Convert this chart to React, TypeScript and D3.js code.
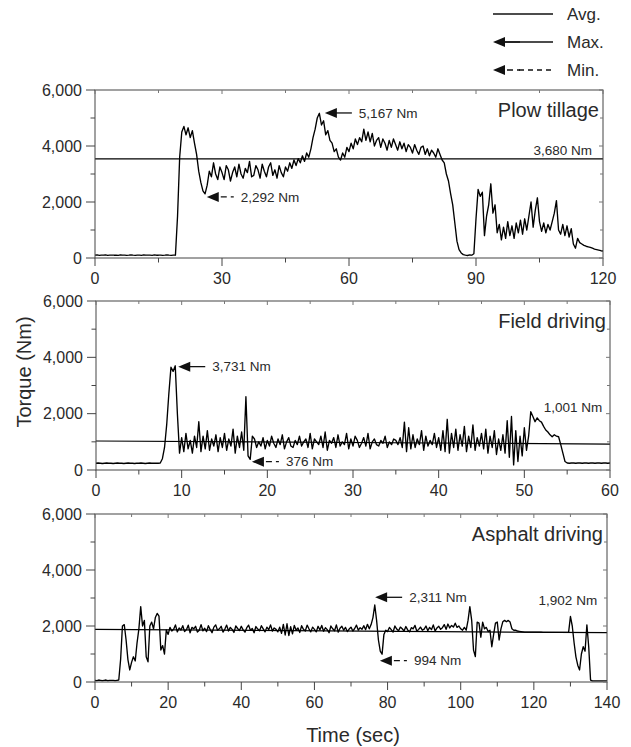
import React from 'react';
import * as d3 from 'd3';

// torque (Nm), plow tillage, one sample every 0.5 s, 0-120 s (10 per row = 5 s)
const plowTorque = [
  100, 110, 95, 105, 100, 110, 95, 100, 105, 100,
  100, 95, 110, 100, 105, 95, 100, 110, 100, 95,
  105, 100, 95, 110, 100, 105, 100, 95, 110, 100,
  100, 105, 95, 100, 110, 100, 95, 105, 100, 1500,
  3600, 4500, 4700, 4400, 4650, 4300, 4550, 4100, 3700, 3100,
  2700, 2400, 2292, 2600, 3100, 2900, 3400, 3000, 2800, 3250,
  3050, 2800, 3300, 3150, 2750, 3050, 3250, 2900, 3350, 3000,
  2850, 3200, 3050, 3450, 2900, 2950, 3300, 3150, 2850, 3350,
  3100, 2900, 3250, 3400, 2950, 3150, 2850, 3300, 3050, 2900,
  3250, 3100, 3400, 3200, 3500, 3300, 3550, 3400, 3650, 3450,
  3750, 3600, 3900, 4300, 4600, 5000, 5167, 4750, 4900, 4400,
  4550, 4200, 4100, 3800, 3900, 3600, 3500, 3750, 3600, 3950,
  3800, 4100, 3900, 4250, 4050, 4300, 4150, 4600, 4200, 4500,
  4150, 4450, 4000, 4200, 4300, 3950, 4250, 4100, 3850, 4200,
  3950, 4250, 4050, 3850, 4150, 3900, 4100, 3800, 4050, 3950,
  3750, 4050, 3850, 3700, 3950, 4000, 3700, 3900, 3650, 3850,
  3750, 3600, 3900, 3700, 3500, 3400, 3000, 2750, 2300, 1900,
  1250, 600, 300, 180, 120, 100, 90, 110, 100, 150,
  1400, 2450, 2200, 2350, 800, 1500, 1900, 2650, 1600, 1900,
  900, 1200, 650, 1100, 700, 1300, 800, 1150, 700, 1250,
  900, 1350, 850, 1400, 1000, 1500, 2000, 1100, 1700, 2150,
  1300, 950, 1250, 900, 1200, 1000, 1300, 1600, 2050, 1000,
  850, 1200, 800, 1150, 750, 1050, 500, 350, 700, 550,
  500, 450, 420, 400, 380, 350, 320, 300, 280, 260,
  250,
];

// torque (Nm), field driving, one sample every 0.25 s, 0-60 s (20 per row = 5 s)
const fieldTorque = [
  240, 250, 240, 230, 240, 250, 240, 240, 230, 240, 250, 240, 240, 230, 240, 250, 240, 240, 230, 240,
  240, 250, 240, 230, 240, 250, 240, 240, 240, 240, 250, 400, 800, 1600, 2700, 3650, 3500, 3700, 2000, 600,
  1150, 650, 1300, 750, 1050, 600, 1200, 800, 1715, 650, 1200, 750, 1400, 700, 1100, 850, 1250, 650, 1150, 800,
  1300, 700, 1100, 850, 1450, 600, 1200, 800, 1350, 700, 2600, 500, 376, 1200, 1100, 800, 1000, 850, 1150, 750,
  1050, 850, 1200, 950, 800, 1100, 900, 1250, 750, 1000, 1150, 850, 800, 1050, 900, 1200, 850, 1000, 1100, 800,
  1300, 750, 1100, 1000, 900, 1200, 800, 1350, 700, 1050, 950, 1150, 800, 1250, 850, 1000, 900, 1300, 750, 1100,
  850, 1200, 1050, 800, 950, 1150, 850, 1300, 750, 1000, 1100, 900, 850, 1050, 950, 1200, 800, 1000, 900, 1100,
  1050, 900, 1150, 800, 1700, 650, 1500, 750, 1250, 800, 1100, 900, 1400, 700, 1200, 850, 1050, 900, 1300, 800,
  1150, 700, 1400, 650, 1800, 600, 1300, 800, 1450, 700, 1250, 850, 1550, 650, 1200, 800, 1600, 700, 1150, 850,
  1300, 750, 1450, 600, 1200, 800, 1400, 550, 1100, 700, 1250, 600, 1750, 450, 1900, 180, 1400, 300, 1200, 500,
  1500, 700, 1200, 2070, 1900, 1715, 1850, 1750, 1700, 1550, 1420, 1350, 1250, 1180, 1250, 1200, 1180, 900, 600, 300,
  250, 240, 250, 250, 240, 250, 250, 240, 250, 250, 240, 250, 250, 240, 250, 250, 240, 250, 250, 240,
  250,
];

// torque (Nm), asphalt driving, one sample every 0.5 s, 0-140 s (10 per row = 5 s)
const asphaltTorque = [
  60, 50, 70, 60, 50, 60, 70, 50, 60, 60,
  60, 50, 60, 70, 800, 2000, 2050, 1500, 800, 430,
  700, 900, 750, 1400, 1900, 2690, 2000, 2200, 900, 720,
  2000, 2140, 1900, 2300, 2450, 2350, 1140, 1300, 1000, 1860,
  1700, 1950, 1820, 1880, 2040, 1790, 1930, 1860, 2010, 1800,
  1870, 2030, 1760, 1950, 1900, 1990, 1780, 1850, 2050, 1830,
  1920, 1800, 2010, 1870, 1760, 1960, 2040, 1850, 1900, 1990,
  1780, 1890, 2030, 1820, 1950, 1880, 1770, 2000, 1910, 1840,
  1990, 1860, 1780, 1940, 2030, 1850, 1910, 1760, 1980, 1890,
  1830, 2010, 1900, 1790, 1960, 1870, 2040, 1820, 1930, 1880,
  1790, 1960, 1740, 2060, 1680, 2080, 1660, 1980, 1720, 2020,
  1850, 1930, 1770, 2010, 1880, 1820, 2030, 1900, 1790, 1960,
  1880, 1790, 1990, 1860, 2020, 1810, 1940, 1870, 1760, 2000,
  1900, 1830, 2040, 1780, 1920, 1990, 1850, 1950, 1800, 1890,
  1960, 1820, 1910, 2030, 1850, 1940, 1880, 2010, 1870, 2060,
  1900, 2050, 2300, 2750, 2200, 1500, 1100, 994, 1700, 1850,
  1800, 1950, 1870, 1780, 2000, 1890, 1830, 1960, 1900, 1820,
  1980, 1860, 1790, 1940, 1900, 2020, 1810, 1880, 1960, 1850,
  1890, 2000, 1830, 1950, 1870, 2040, 1820, 1930, 1990, 1880,
  1940, 2050, 1880, 2070, 1930, 2020, 1960, 2100, 1950, 2000,
  1900, 1850, 1950, 1850, 2200, 2690, 2200, 1140, 910, 2140,
  2100, 1600, 2140, 1900, 1950, 1800, 1850, 1260, 1700, 2100,
  2140, 1500, 1900, 2150, 2200, 2150, 2200, 2140, 1900, 1850,
  1850, 1820, 1810, 1800, 1790, 1780, 1780, 1780, 1780, 1780,
  1780, 1780, 1780, 1780, 1780, 1775, 1775, 1775, 1775, 1775,
  1775, 1775, 1775, 1775, 1775, 1770, 1770, 1770, 1770, 1770,
  2340, 2000, 1400, 900, 600, 430, 1000, 1260, 1100, 2040,
  1260, 70, 40, 40, 40, 40, 40, 40, 40, 40,
  40,
];

// average lines as drawn, [start, end] in Nm
const plowAvg = [3540, 3540];
const fieldAvg = [1030, 920];
const asphaltAvg = [1880, 1760];

const torqueTicks = [0, 2000, 4000, 6000];
const plowTicks = [0, 30, 60, 90, 120];
const fieldTicks = [0, 10, 20, 30, 40, 50, 60];
const asphaltTicks = [0, 20, 40, 60, 80, 100, 120, 140];

const titles = ['Plow tillage', 'Field driving', 'Asphalt driving'];
const maxLabels = ['5,167 Nm', '3,731 Nm', '2,311 Nm'];
const minLabels = ['2,292 Nm', '376 Nm', '994 Nm'];
const avgLabels = ['3,680 Nm', '1,001 Nm', '1,902 Nm'];
// where arrows point / avg label ends, [sec, Nm]
const maxPoints = [[54.3, 5180], [9.6, 3670], [76.6, 3025]];
const minPoints = [[26.4, 2180], [18.2, 295], [77.9, 760]];
const avgLabelPoints = [[117.4, 3860], [59.1, 2240], [137.3, 2930]];

const legendLabels = ['Avg.', 'Max.', 'Min.'];

const panels = [
  { values: plowTorque, step: 0.5, xMax: 120, ticks: plowTicks, avg: plowAvg, box: { left: 95, right: 603, top: 90, bottom: 258 } },
  { values: fieldTorque, step: 0.25, xMax: 60, ticks: fieldTicks, avg: fieldAvg, box: { left: 96, right: 610, top: 301, bottom: 470 } },
  { values: asphaltTorque, step: 0.5, xMax: 140, ticks: asphaltTicks, avg: asphaltAvg, box: { left: 95, right: 607, top: 514, bottom: 682 } },
];

const font = '"Liberation Sans", Arial, Helvetica, sans-serif';
const axisColor = '#444';
const textColor = '#2a2a2a';
const fmt = d3.format(',');

function Arrow({ x, y, dashed }) {
  return (
    <g>
      <path d={`M${x},${y}L${x + 12},${y - 5}L${x + 12},${y + 5}Z`} fill="#111" />
      <line
        x1={dashed ? x + 14 : x + 11}
        x2={x + 27}
        y1={y}
        y2={y}
        stroke="#111"
        strokeWidth={1.3}
        strokeDasharray={dashed ? '6,4' : undefined}
      />
    </g>
  );
}

function Panel({ p, i }) {
  const { left, right, top, bottom } = p.box;
  const x = d3.scaleLinear().domain([0, p.xMax]).range([left, right]);
  const y = d3.scaleLinear().domain([0, 6000]).range([bottom, top]);
  const line = d3
    .line()
    .x((_, k) => x(k * p.step))
    .y((d) => y(d));
  const xMinor = p.ticks.slice(1).map((t, k) => (t + p.ticks[k]) / 2);
  const yMinor = torqueTicks.slice(1).map((t, k) => (t + torqueTicks[k]) / 2);
  const [mx, my] = maxPoints[i];
  const [nx, ny] = minPoints[i];
  const [ax, ay] = avgLabelPoints[i];

  return (
    <g>
      <path d={line(p.values)} fill="none" stroke="#000" strokeWidth={1.35} strokeLinejoin="round" />
      <line x1={x(0)} x2={x(p.xMax)} y1={y(p.avg[0])} y2={y(p.avg[1])} stroke="#000" strokeWidth={1.2} />

      {/* frame */}
      <rect x={left} y={top} width={right - left} height={bottom - top} fill="none" stroke={axisColor} strokeWidth={1} />

      {/* x ticks */}
      {p.ticks.map((t) => (
        <g key={'xt' + t}>
          <line x1={x(t)} x2={x(t)} y1={bottom} y2={bottom + 8} stroke={axisColor} />
          <line x1={x(t)} x2={x(t)} y1={top} y2={top + 4} stroke="#777" />
          <text x={x(t)} y={bottom + 26} textAnchor="middle" fontSize={16} fill={textColor}>
            {t}
          </text>
        </g>
      ))}
      {xMinor.map((t) => (
        <g key={'xm' + t}>
          <line x1={x(t)} x2={x(t)} y1={bottom} y2={bottom + 4.5} stroke={axisColor} />
          <line x1={x(t)} x2={x(t)} y1={top} y2={top + 3} stroke="#777" />
        </g>
      ))}

      {/* y ticks */}
      {torqueTicks.map((v) => (
        <g key={'yt' + v}>
          <line x1={left - 9} x2={left} y1={y(v)} y2={y(v)} stroke={axisColor} />
          <line x1={right - 4} x2={right} y1={y(v)} y2={y(v)} stroke="#777" />
          <text x={left - 13} y={y(v)} dy="0.35em" textAnchor="end" fontSize={16} fill={textColor}>
            {fmt(v)}
          </text>
        </g>
      ))}
      {yMinor.map((v) => (
        <g key={'ym' + v}>
          <line x1={left - 4.5} x2={left} y1={y(v)} y2={y(v)} stroke={axisColor} />
          <line x1={right - 3} x2={right} y1={y(v)} y2={y(v)} stroke="#777" />
        </g>
      ))}

      <text x={right - 4} y={top + 20} dy="0.35em" textAnchor="end" fontSize={20} fill={textColor}>
        {titles[i]}
      </text>

      <Arrow x={x(mx)} y={y(my)} dashed={false} />
      <text x={x(mx) + 34} y={y(my)} dy="0.35em" fontSize={13.5} fill={textColor}>
        {maxLabels[i]}
      </text>
      <Arrow x={x(nx)} y={y(ny)} dashed={true} />
      <text x={x(nx) + 34} y={y(ny)} dy="0.35em" fontSize={13.5} fill={textColor}>
        {minLabels[i]}
      </text>
      <text x={x(ax)} y={y(ay)} dy="0.35em" textAnchor="end" fontSize={13.5} fill={textColor}>
        {avgLabels[i]}
      </text>
    </g>
  );
}

export default function App() {
  const legendY = [14, 42, 70];
  return (
    <svg
      width={631}
      height={747}
      style={{ position: 'absolute', left: 0, top: 0, background: '#fff' }}
      fontFamily={font}
    >
      {/* legend */}
      <line x1={493} x2={553} y1={legendY[0]} y2={legendY[0]} stroke="#111" strokeWidth={1.3} />
      <Arrow x={493} y={legendY[1]} dashed={false} />
      <line x1={505} x2={553} y1={legendY[1]} y2={legendY[1]} stroke="#111" strokeWidth={1.3} />
      <Arrow x={493} y={legendY[2]} dashed={true} />
      <line x1={519} x2={553} y1={legendY[2]} y2={legendY[2]} stroke="#111" strokeWidth={1.3} strokeDasharray="5,4" />
      {legendLabels.map((l, k) => (
        <text key={l} x={567} y={legendY[k]} dy="0.35em" fontSize={17} fill={textColor}>
          {l}
        </text>
      ))}

      {panels.map((p, i) => (
        <Panel key={i} p={p} i={i} />
      ))}

      <text
        transform="translate(31,372) rotate(-90)"
        textAnchor="middle"
        fontSize={20}
        fill={textColor}
      >
        Torque (Nm)
      </text>
      <text x={353} y={742} textAnchor="middle" fontSize={20} fill={textColor}>
        Time (sec)
      </text>
    </svg>
  );
}
